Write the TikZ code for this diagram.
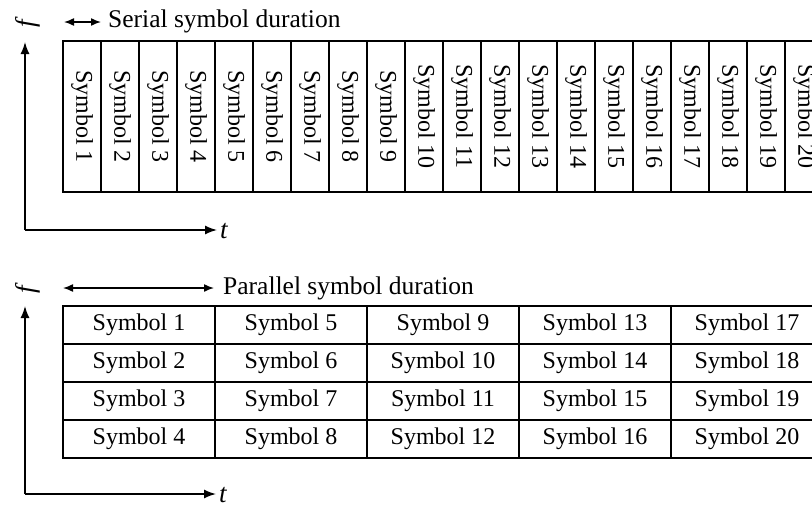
\documentclass[tikz,border=0pt]{standalone}
\usepackage{fontspec}
\setmainfont{Liberation Serif}
\usetikzlibrary{arrows.meta,positioning}

\tikzset{
  cell/.style={draw, line width=1.3pt, inner sep=0pt, font=\fontsize{24}{27}\selectfont},
  sercell/.style={cell, rotate=-90, minimum width=151pt, minimum height=38pt},
  parcell/.style={cell, minimum width=152pt, minimum height=38pt},
  axis/.style={-{Latex[length=12pt,width=9pt]}, line width=1.5pt},
  span/.style={{Latex[length=10pt,width=8pt]}-{Latex[length=10pt,width=8pt]}, line width=1.5pt},
  lbl/.style={font=\fontsize{25.5}{28}\selectfont, inner sep=0pt},
  axlbl/.style={font=\fontsize{27}{30}\selectfont\itshape, inner sep=0pt},
}

\begin{document}
\begin{tikzpicture}[x=1pt, y=-1pt]
    \clip (0,0) rectangle (812,504);

    % Serial transmission: one symbol after another
    \coordinate (so) at (25,230);
    \coordinate (sf) at (25,42);
    \coordinate (st) at (217,230);
    \draw[axis] (so) -- (sf);
    \draw[axis] (so) -- (st);
    \node[axlbl, rotate=90] (sflab) at (28,24) {f};
    \node[axlbl, anchor=base west] (stlab) at (220,238) {t};

    \coordinate (sa) at (64,22);
    \coordinate (sb) at (101,22);
    \draw[span] (sa) -- (sb);
    \node[lbl, anchor=base west] (slab) at (108,27) {Serial symbol duration};

    \foreach \i in {1,...,20}
        \node[sercell] (s\i) at ({63+38*(\i-1)+19},116.5) {Symbol \i};

    % Parallel transmission: four subcarriers at once
    \coordinate (po) at (25,494);
    \coordinate (pf) at (25,306);
    \coordinate (pt) at (216,494);
    \draw[axis] (po) -- (pf);
    \draw[axis] (po) -- (pt);
    \node[axlbl, rotate=90] (pflab) at (28,290) {f};
    \node[axlbl, anchor=base west] (ptlab) at (219,502) {t};

    \coordinate (pa) at (63,288);
    \coordinate (pb) at (214,288);
    \draw[span] (pa) -- (pb);
    \node[lbl, anchor=base west] (plab) at (223,294) {Parallel symbol duration};

    \foreach \c in {0,...,4}
        \foreach \r in {1,...,4} {
            \pgfmathtruncatemacro{\n}{4*\c+\r}
            \node[parcell] (p\n) at ({63+152*\c+76},{306+38*(\r-1)+19}) {Symbol \n};
        }
\end{tikzpicture}
\end{document}
